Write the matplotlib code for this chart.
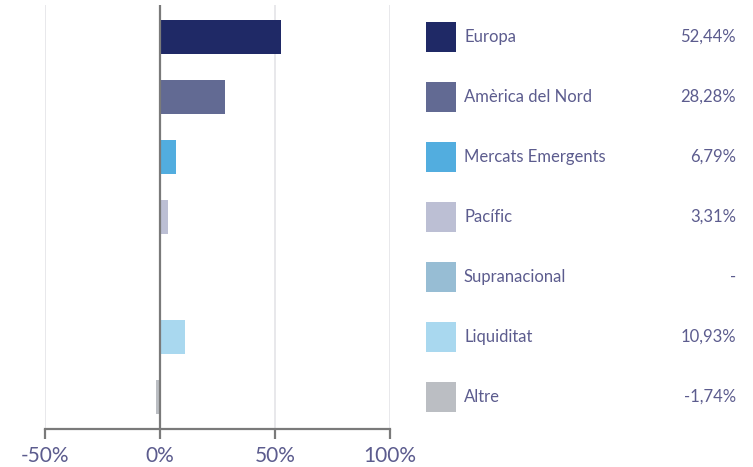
import matplotlib
matplotlib.use("Agg")
import matplotlib.pyplot as plt
from matplotlib.patches import Rectangle
from matplotlib.ticker import FuncFormatter

# Data
categories = ["Europa", "Amèrica del Nord", "Mercats Emergents", "Pacífic",
              "Supranacional", "Liquiditat", "Altre"]
values = [52.44, 28.28, 6.79, 3.31, 0.0, 10.93, -1.74]
value_labels = ["52,44%", "28,28%", "6,79%", "3,31%", "-", "10,93%", "-1,74%"]
colors = ["#1f2966", "#626a93", "#52addf", "#bcbfd4", "#97bdd4", "#a9d8ef", "#bbbec3"]
x_ticks = [-50, 0, 50, 100]

TEXT_COLOR = "#5c5c8e"
AXIS_COLOR = "#7a7a7a"
GRID_COLOR = "#e4e4e8"

plt.rcParams["font.family"] = ["Lato", "DejaVu Sans"]

W, H = 753, 467
fig = plt.figure(figsize=(W / 100, H / 100), dpi=100)

y_top, y_bot = 5, 429
ax = fig.add_axes([45 / W, (H - y_bot) / H, (390 - 45) / W, (y_bot - y_top) / H])
pos = list(range(len(categories)))
ax.barh(pos, values, height=0.57, color=colors, zorder=3)
ax.set_xlim(-50, 100)
ax.set_ylim(len(categories) - 0.467, -0.533)
ax.set_xticks(x_ticks)
ax.xaxis.set_major_formatter(FuncFormatter(lambda v, _: f"{v:.0f}%"))
ax.set_yticks([])
for xt in x_ticks:
    if xt != 0:
        ax.axvline(xt, color=GRID_COLOR, lw=1.2, zorder=1)
ax.axvline(0, color=AXIS_COLOR, lw=1.6, zorder=4)
for s in ["top", "right", "left"]:
    ax.spines[s].set_visible(False)
ax.spines["bottom"].set_color(AXIS_COLOR)
ax.spines["bottom"].set_linewidth(1.6)
ax.tick_params(axis="x", length=7, width=1.6, color=AXIS_COLOR, direction="out",
               labelsize=15, labelcolor=TEXT_COLOR, pad=5)

# Legend panel
lax = fig.add_axes([410 / W, (H - y_bot) / H, (W - 410) / W, (y_bot - y_top) / H])
lax.set_xlim(410, W)
lax.set_ylim(len(categories) - 0.467, -0.533)
lax.axis("off")
for i, (cat, lab, c) in enumerate(zip(categories, value_labels, colors)):
    lax.add_patch(Rectangle((426, i - 0.25), 30, 0.5, color=c, lw=0))
    lax.text(464, i, cat, fontsize=12, color=TEXT_COLOR, va="center", ha="left")
    lax.text(736, i, lab, fontsize=12, color=TEXT_COLOR, va="center", ha="right")

fig.savefig("out.png", dpi=100)
